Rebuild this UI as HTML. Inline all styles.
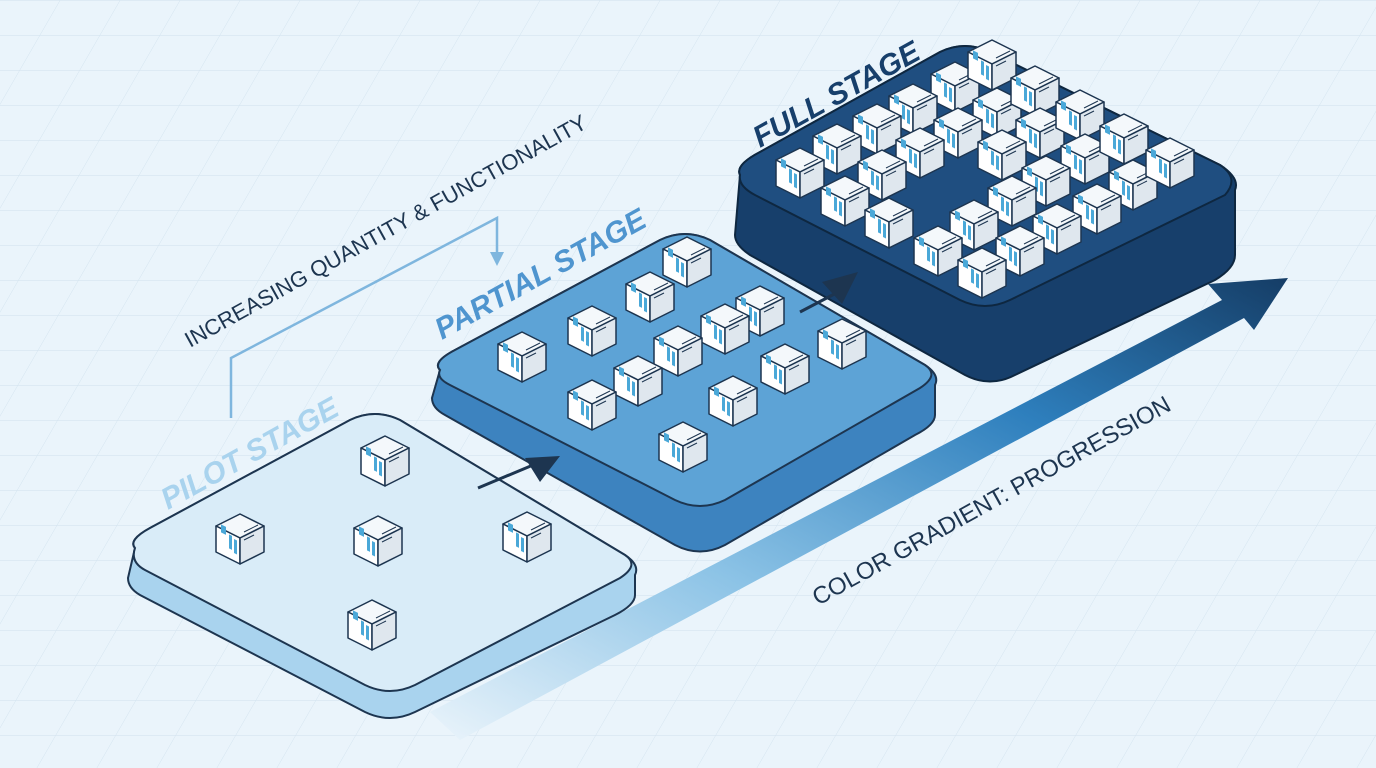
<!DOCTYPE html>
<html><head><meta charset="utf-8"><style>
html,body{margin:0;padding:0;background:#eaf4fb;}
svg{display:block;font-family:"Liberation Sans",sans-serif;}
</style></head><body>
<svg width="1376" height="768" viewBox="0 0 1376 768" xmlns="http://www.w3.org/2000/svg">
<defs>
<pattern id="grid" width="60" height="35" patternUnits="userSpaceOnUse" patternTransform="skewX(-30)">
<path d="M0 0H60M0 0V35" stroke="#d3e3ef" stroke-width="1" fill="none"/>
</pattern>
<g id="cube">
<polygon points="-24,-14 0,-26 24,-14 0,-2" fill="#f4f8fb" stroke="#1d3550" stroke-width="1.5" stroke-linejoin="round"/>
<polygon points="-24,-14 0,-2 0,24 -24,12" fill="#ffffff" stroke="#1d3550" stroke-width="1.5" stroke-linejoin="round"/>
<polygon points="0,-2 24,-14 24,12 0,24" fill="#dfe7ee" stroke="#1d3550" stroke-width="1.5" stroke-linejoin="round"/>
<rect x="-19" y="-6" width="5" height="8" fill="#4aa8d8" transform="skewY(27)"/>
<rect x="-11" y="0" width="3" height="14" fill="#4aa8d8" transform="skewY(27)"/>
<rect x="-6" y="2" width="3" height="14" fill="#4aa8d8" transform="skewY(27)"/>
<path d="M4 -8 L18 -15 M4 -4 L18 -11 M4 0 L14 -5" stroke="#1d3550" stroke-width="1"/>
</g>
<linearGradient id="arr" x1="0" y1="1" x2="1" y2="0">
<stop offset="0" stop-color="#eaf4fb"/><stop offset="0.35" stop-color="#8cc3e6"/><stop offset="0.7" stop-color="#2e7fbd"/><stop offset="1" stop-color="#153d66"/>
</linearGradient>
</defs>
<rect width="1376" height="768" fill="#eaf4fb"/>
<rect width="1376" height="768" fill="url(#grid)"/>

<!-- big arrow -->
<polygon points="430,712 1222,300 1208,284 1288,278 1254,330 1244,318 460,740" fill="url(#arr)"/>

<!-- full platform -->
<path d="M740,175 Q735,165 760,152 L940,52 Q965,40 990,52 L1220,165 Q1240,178 1235,190 L1235,255 Q1235,268 1215,280 L1015,375 Q990,388 965,375 L750,255 Q735,245 735,235 Z" fill="#173f6b" stroke="#0e2740" stroke-width="2"/>
<path d="M740,175 Q735,165 760,152 L940,52 Q965,40 990,52 L1220,165 Q1240,178 1225,195 L1010,300 Q985,312 960,300 L755,195 Q738,186 740,175 Z" fill="#1f4e80" stroke="#0e2740" stroke-width="2"/>

<!-- partial platform -->
<path d="M440,370 Q432,362 455,350 L660,240 Q685,228 710,240 L925,365 Q940,375 935,385 L935,415 Q935,425 915,435 L725,545 Q700,558 675,545 L445,415 Q432,408 432,398 Z" fill="#3d83bf" stroke="#1d3550" stroke-width="2"/>
<path d="M440,370 Q432,362 455,350 L660,240 Q685,228 710,240 L925,365 Q940,375 920,388 L725,500 Q700,512 675,500 L450,385 Q436,378 440,370 Z" fill="#5da3d6" stroke="#1d3550" stroke-width="2"/>

<!-- pilot platform -->
<path d="M135,548 Q128,540 150,528 L350,420 Q375,408 400,420 L625,555 Q640,565 635,575 L635,595 Q635,605 615,615 L415,712 Q390,724 365,712 L140,595 Q128,588 128,578 Z" fill="#a9d3ee" stroke="#1d3550" stroke-width="2"/>
<path d="M135,548 Q128,540 150,528 L350,420 Q375,408 400,420 L625,555 Q640,565 620,578 L415,685 Q390,697 365,685 L145,570 Q130,562 135,548 Z" fill="#d9ecf8" stroke="#1d3550" stroke-width="2"/>

<!-- small arrows -->
<path d="M478,488 L545,460" stroke="#1d3550" stroke-width="3" fill="none"/>
<polygon points="525,458 560,456 540,482" fill="#1d3550"/>
<path d="M800,312 L842,290" stroke="#1d3550" stroke-width="3"/>
<polygon points="822,282 858,272 842,304" fill="#1d3550"/>

<!-- bracket arrow -->
<path d="M231,418 V358 L497,218 V255" stroke="#7fb6de" stroke-width="2.5" fill="none"/>
<polygon points="490,252 504,252 497,266" fill="#7fb6de"/>

<!-- pilot cubes -->
<use href="#cube" x="385" y="462"/><use href="#cube" x="240" y="540"/><use href="#cube" x="378" y="542"/><use href="#cube" x="527" y="538"/><use href="#cube" x="372" y="626"/>
<!-- partial cubes -->
<use href="#cube" x="687" y="263"/><use href="#cube" x="650" y="298"/><use href="#cube" x="592" y="332"/><use href="#cube" x="522" y="358"/><use href="#cube" x="760" y="312"/><use href="#cube" x="725" y="330"/><use href="#cube" x="678" y="352"/><use href="#cube" x="638" y="382"/><use href="#cube" x="592" y="406"/><use href="#cube" x="842" y="345"/><use href="#cube" x="785" y="370"/><use href="#cube" x="733" y="402"/><use href="#cube" x="683" y="448"/>
<!-- full cubes -->
<g>
<use href="#cube" x="955" y="88"/><use href="#cube" x="992" y="66"/><use href="#cube" x="913" y="110"/><use href="#cube" x="997" y="114"/><use href="#cube" x="1035" y="92"/><use href="#cube" x="877" y="130"/><use href="#cube" x="958" y="134"/><use href="#cube" x="1040" y="134"/><use href="#cube" x="1080" y="116"/><use href="#cube" x="837" y="150"/><use href="#cube" x="920" y="154"/><use href="#cube" x="1002" y="156"/><use href="#cube" x="1085" y="160"/><use href="#cube" x="1124" y="140"/><use href="#cube" x="800" y="174"/><use href="#cube" x="882" y="176"/><use href="#cube" x="1046" y="182"/><use href="#cube" x="1133" y="186"/><use href="#cube" x="1170" y="164"/><use href="#cube" x="845" y="202"/><use href="#cube" x="1012" y="202"/><use href="#cube" x="1097" y="210"/><use href="#cube" x="889" y="224"/><use href="#cube" x="974" y="226"/><use href="#cube" x="1057" y="230"/><use href="#cube" x="938" y="252"/><use href="#cube" x="1020" y="252"/><use href="#cube" x="982" y="274"/>
</g>

<!-- labels -->
<text x="0" y="0" transform="translate(168,510) rotate(-29)" font-size="30" font-weight="bold" fill="#a9d3ee" font-style="italic">PILOT STAGE</text>
<text x="0" y="0" transform="translate(442,340) rotate(-29)" font-size="30" font-weight="bold" fill="#4f95cf" font-style="italic">PARTIAL STAGE</text>
<text x="0" y="0" transform="translate(760,148) rotate(-29)" font-size="30" font-weight="bold" fill="#173f6b" font-style="italic">FULL STAGE</text>
<text x="0" y="0" transform="translate(190,348) rotate(-29)" font-size="22" fill="#1d3550">INCREASING QUANTITY &amp; FUNCTIONALITY</text>
<text x="0" y="0" transform="translate(818,606) rotate(-29)" font-size="24" fill="#1d3550">COLOR GRADIENT: PROGRESSION</text>
</svg>
</body></html>
